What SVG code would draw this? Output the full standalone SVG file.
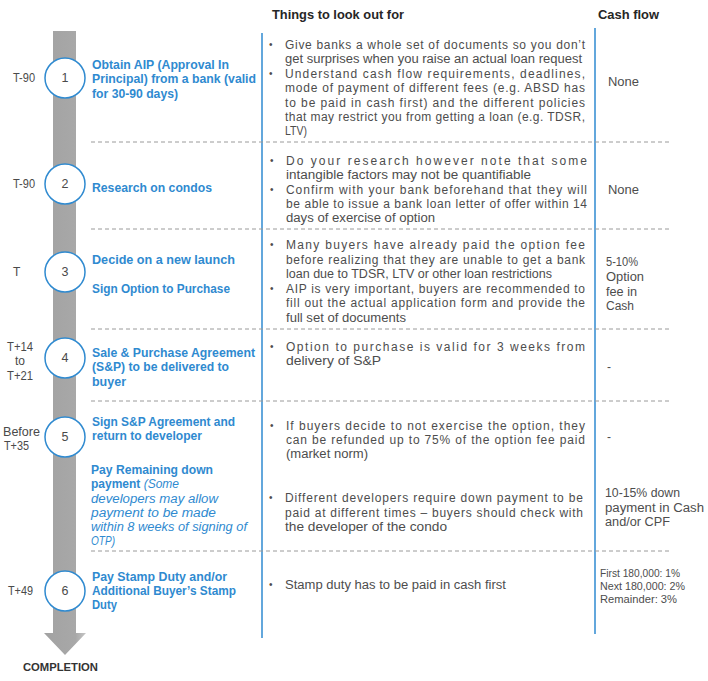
<svg xmlns="http://www.w3.org/2000/svg" width="708" height="681" viewBox="0 0 708 681">
<defs>
<linearGradient id="barg" x1="0" y1="0" x2="1" y2="0">
<stop offset="0" stop-color="#a2a2a2"/>
<stop offset="0.75" stop-color="#a8a8a8"/>
<stop offset="1" stop-color="#c6c6c6"/>
</linearGradient>
<style>
.hdr{font-family:"Liberation Sans",Arial,sans-serif;font-size:12.5px;font-weight:bold;fill:#262626}
.tl{font-family:"Liberation Sans",Arial,sans-serif;font-size:12px;fill:#4a4a4a}
.num{font-family:"Liberation Sans",Arial,sans-serif;font-size:12.5px;fill:#4a4a4a;text-anchor:middle}
.ti{font-family:"Liberation Sans",Arial,sans-serif;font-size:12px;font-weight:bold;fill:#2F8AD0}
.it{font-family:"Liberation Sans",Arial,sans-serif;font-size:12px;font-style:italic;font-weight:normal;fill:#2F8AD0}
.bt{font-family:"Liberation Sans",Arial,sans-serif;font-size:12px;fill:#4d4d4d}
.dot{font-family:"Liberation Sans",Arial,sans-serif;font-size:10px;fill:#4d4d4d}
.cf{font-family:"Liberation Sans",Arial,sans-serif;font-size:12px;fill:#4d4d4d}
.cfs{font-family:"Liberation Sans",Arial,sans-serif;font-size:10px;fill:#4d4d4d}
.circ{fill:#ffffff;stroke:#2F8AD0;stroke-width:1.5}
.vl{stroke:#2F8AD0;stroke-width:1.5;fill:none}
.dash{stroke:#9a9a9a;stroke-width:1;stroke-dasharray:4 3;fill:none}
</style>
</defs>
<rect width="708" height="681" fill="#ffffff"/>

<!-- timeline arrow -->
<g id="timeline">
<path d="M53,31 H76 V633 H86 L65,655 L44,633 H53 Z" fill="url(#barg)"/>
<text class="tl" x="23" y="671" style="font-weight:bold;fill:#333333;font-size:11.5px" textLength="75" lengthAdjust="spacingAndGlyphs">COMPLETION</text>
</g>

<!-- headers -->
<g id="headers">
<text class="hdr" x="272" y="19" textLength="132" lengthAdjust="spacingAndGlyphs">Things to look out for</text>
<text class="hdr" x="598" y="19" textLength="61" lengthAdjust="spacingAndGlyphs">Cash flow</text>
</g>

<!-- connectors / grid lines -->
<g id="connectors">
<line class="vl" x1="262" y1="33" x2="262" y2="638"/>
<line class="vl" x1="595" y1="28" x2="595" y2="634"/>
<line class="dash" x1="91" y1="142" x2="670" y2="142"/>
<line class="dash" x1="91" y1="229" x2="670" y2="229"/>
<line class="dash" x1="91" y1="329" x2="670" y2="329"/>
<line class="dash" x1="91" y1="401" x2="670" y2="401"/>
<line class="dash" x1="91" y1="551" x2="670" y2="551"/>
</g>

<!-- step 1 -->
<g id="step1">
<text class="tl" x="13" y="82" textLength="22" lengthAdjust="spacingAndGlyphs">T-90</text>
<circle class="circ" cx="65" cy="78" r="20"/>
<text class="num" x="65" y="82">1</text>
<text class="ti" x="92" y="69" textLength="137" lengthAdjust="spacingAndGlyphs">Obtain AIP (Approval In</text>
<text class="ti" x="92" y="83" textLength="164" lengthAdjust="spacingAndGlyphs">Principal) from a bank (valid</text>
<text class="ti" x="92" y="98" textLength="86" lengthAdjust="spacingAndGlyphs">for 30-90 days)</text>
<text class="dot" x="269" y="48">•</text>
<text class="bt" x="285" y="49" textLength="300" lengthAdjust="spacing">Give banks a whole set of documents so you don’t</text>
<text class="bt" x="285" y="63" textLength="297" lengthAdjust="spacingAndGlyphs">get surprises when you raise an actual loan request</text>
<text class="dot" x="269" y="77">•</text>
<text class="bt" x="285" y="78" textLength="300" lengthAdjust="spacing">Understand cash flow requirements, deadlines,</text>
<text class="bt" x="285" y="92" textLength="300" lengthAdjust="spacing">mode of payment of different fees (e.g. ABSD has</text>
<text class="bt" x="285" y="107" textLength="300" lengthAdjust="spacing">to be paid in cash first) and the different policies</text>
<text class="bt" x="285" y="121" textLength="300" lengthAdjust="spacing">that may restrict you from getting a loan (e.g. TDSR,</text>
<text class="bt" x="285" y="135" textLength="22" lengthAdjust="spacingAndGlyphs">LTV)</text>
<text class="cf" x="608" y="86" textLength="31" lengthAdjust="spacingAndGlyphs">None</text>
</g>

<!-- step 2 -->
<g id="step2">
<text class="tl" x="13" y="188" textLength="22" lengthAdjust="spacingAndGlyphs">T-90</text>
<circle class="circ" cx="65" cy="184" r="20"/>
<text class="num" x="65" y="188">2</text>
<text class="ti" x="92" y="192" textLength="120" lengthAdjust="spacingAndGlyphs">Research on condos</text>
<text class="dot" x="270" y="164">•</text>
<text class="bt" x="286" y="165" textLength="301" lengthAdjust="spacing">Do your research however note that some</text>
<text class="bt" x="286" y="179" textLength="245" lengthAdjust="spacingAndGlyphs">intangible factors may not be quantifiable</text>
<text class="dot" x="270" y="193">•</text>
<text class="bt" x="286" y="194" textLength="301" lengthAdjust="spacing">Confirm with your bank beforehand that they will</text>
<text class="bt" x="286" y="208" textLength="301" lengthAdjust="spacing">be able to issue a bank loan letter of offer within 14</text>
<text class="bt" x="286" y="222" textLength="149" lengthAdjust="spacingAndGlyphs">days of exercise of option</text>
<text class="cf" x="608" y="194" textLength="31" lengthAdjust="spacingAndGlyphs">None</text>
</g>

<!-- step 3 -->
<g id="step3">
<text class="tl" x="13" y="276">T</text>
<circle class="circ" cx="65" cy="272" r="20"/>
<text class="num" x="65" y="276">3</text>
<text class="ti" x="92" y="264" textLength="143" lengthAdjust="spacingAndGlyphs">Decide on a new launch</text>
<text class="ti" x="92" y="293" textLength="138" lengthAdjust="spacingAndGlyphs">Sign Option to Purchase</text>
<text class="dot" x="270" y="248">•</text>
<text class="bt" x="286" y="249" textLength="299" lengthAdjust="spacing">Many buyers have already paid the option fee</text>
<text class="bt" x="286" y="264" textLength="299" lengthAdjust="spacing">before realizing that they are unable to get a bank</text>
<text class="bt" x="286" y="278" textLength="266" lengthAdjust="spacingAndGlyphs">loan due to TDSR, LTV or other loan restrictions</text>
<text class="dot" x="270" y="292">•</text>
<text class="bt" x="286" y="293" textLength="299" lengthAdjust="spacing">AIP is very important, buyers are recommended to</text>
<text class="bt" x="286" y="307" textLength="299" lengthAdjust="spacing">fill out the actual application form and provide the</text>
<text class="bt" x="286" y="322" textLength="120" lengthAdjust="spacingAndGlyphs">full set of documents</text>
<text class="cf" x="606" y="266" textLength="32" lengthAdjust="spacingAndGlyphs">5-10%</text>
<text class="cf" x="606" y="281" textLength="38" lengthAdjust="spacingAndGlyphs">Option</text>
<text class="cf" x="606" y="296" textLength="31" lengthAdjust="spacingAndGlyphs">fee in</text>
<text class="cf" x="606" y="310" textLength="28" lengthAdjust="spacingAndGlyphs">Cash</text>
</g>

<!-- step 4 -->
<g id="step4">
<text class="tl" x="7" y="351" textLength="26" lengthAdjust="spacingAndGlyphs">T+14</text>
<text class="tl" x="20" y="365" text-anchor="middle">to</text>
<text class="tl" x="7" y="380" textLength="26" lengthAdjust="spacingAndGlyphs">T+21</text>
<circle class="circ" cx="65" cy="358" r="20"/>
<text class="num" x="65" y="362">4</text>
<text class="ti" x="92" y="357" textLength="163" lengthAdjust="spacingAndGlyphs">Sale &amp; Purchase Agreement</text>
<text class="ti" x="92" y="371" textLength="137" lengthAdjust="spacingAndGlyphs">(S&amp;P) to be delivered to</text>
<text class="ti" x="92" y="386" textLength="34" lengthAdjust="spacingAndGlyphs">buyer</text>
<text class="dot" x="270" y="350">•</text>
<text class="bt" x="286" y="351" textLength="299" lengthAdjust="spacing">Option to purchase is valid for 3 weeks from</text>
<text class="bt" x="286" y="365" textLength="95" lengthAdjust="spacingAndGlyphs">delivery of S&amp;P</text>
<text class="cf" x="607" y="371">-</text>
</g>

<!-- step 5 -->
<g id="step5">
<text class="tl" x="3" y="436" textLength="37" lengthAdjust="spacingAndGlyphs">Before</text>
<text class="tl" x="4" y="450" textLength="25" lengthAdjust="spacingAndGlyphs">T+35</text>
<circle class="circ" cx="65" cy="437" r="20"/>
<text class="num" x="65" y="441">5</text>
<text class="ti" x="92" y="426" textLength="143" lengthAdjust="spacingAndGlyphs">Sign S&amp;P Agreement and</text>
<text class="ti" x="92" y="440" textLength="110" lengthAdjust="spacingAndGlyphs">return to developer</text>
<text class="dot" x="270" y="429">•</text>
<text class="bt" x="286" y="430" textLength="299" lengthAdjust="spacing">If buyers decide to not exercise the option, they</text>
<text class="bt" x="286" y="444" textLength="299" lengthAdjust="spacing">can be refunded up to 75% of the option fee paid</text>
<text class="bt" x="286" y="458" textLength="82" lengthAdjust="spacingAndGlyphs">(market norm)</text>
<text class="cf" x="607" y="441">-</text>
</g>

<!-- step 5b: remaining down payment -->
<g id="step5b">
<text class="ti" x="91" y="474" textLength="122" lengthAdjust="spacingAndGlyphs">Pay Remaining down</text>
<text x="91" y="488"><tspan class="ti">payment </tspan><tspan class="it">(Some</tspan></text>
<text class="it" x="91" y="503" textLength="127" lengthAdjust="spacingAndGlyphs">developers may allow</text>
<text class="it" x="91" y="517" textLength="125" lengthAdjust="spacingAndGlyphs">payment to be made</text>
<text class="it" x="91" y="531" textLength="156" lengthAdjust="spacingAndGlyphs">within 8 weeks of signing of</text>
<text class="it" x="91" y="545" textLength="24" lengthAdjust="spacingAndGlyphs">OTP)</text>
<text class="dot" x="269" y="501">•</text>
<text class="bt" x="285" y="502" textLength="298" lengthAdjust="spacing">Different developers require down payment to be</text>
<text class="bt" x="285" y="517" textLength="298" lengthAdjust="spacing">paid at different times – buyers should check with</text>
<text class="bt" x="285" y="531" textLength="162" lengthAdjust="spacingAndGlyphs">the developer of the condo</text>
<text class="cf" x="605" y="497" textLength="75" lengthAdjust="spacingAndGlyphs">10-15% down</text>
<text class="cf" x="605" y="512" textLength="99" lengthAdjust="spacingAndGlyphs">payment in Cash</text>
<text class="cf" x="605" y="526" textLength="65" lengthAdjust="spacingAndGlyphs">and/or CPF</text>
</g>

<!-- step 6 -->
<g id="step6">
<text class="tl" x="8" y="595" textLength="25" lengthAdjust="spacingAndGlyphs">T+49</text>
<circle class="circ" cx="65" cy="591" r="20"/>
<text class="num" x="65" y="595">6</text>
<text class="ti" x="92" y="581" textLength="135" lengthAdjust="spacingAndGlyphs">Pay Stamp Duty and/or</text>
<text class="ti" x="92" y="595" textLength="144" lengthAdjust="spacingAndGlyphs">Additional Buyer’s Stamp</text>
<text class="ti" x="92" y="609" textLength="25" lengthAdjust="spacingAndGlyphs">Duty</text>
<text class="dot" x="269" y="588">•</text>
<text class="bt" x="285" y="589" textLength="221" lengthAdjust="spacingAndGlyphs">Stamp duty has to be paid in cash first</text>
<text class="cfs" x="600" y="577" textLength="80" lengthAdjust="spacingAndGlyphs">First 180,000: 1%</text>
<text class="cfs" x="600" y="590" textLength="85" lengthAdjust="spacingAndGlyphs">Next 180,000: 2%</text>
<text class="cfs" x="600" y="603" textLength="77" lengthAdjust="spacingAndGlyphs">Remainder: 3%</text>
</g>
</svg>
